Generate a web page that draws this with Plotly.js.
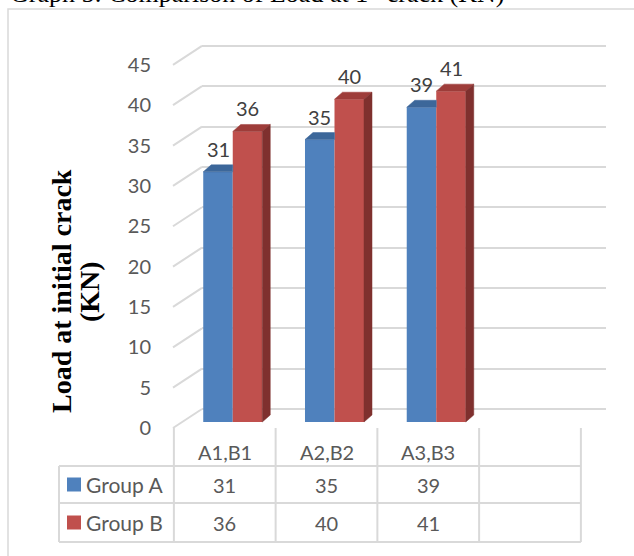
<!DOCTYPE html>
<html>
<head>
<meta charset="utf-8">
<script src="https://cdn.plot.ly/plotly-3.0.1.min.js"></script>
<style>
  html, body { margin: 0; padding: 0; background: #ffffff; }
  #chart { width: 634px; height: 556px; }
</style>
</head>
<body>
<div id="chart"></div>
<script>
// ---- data ----
const categories = ["A1,B1", "A2,B2", "A3,B3", ""];
const seriesNames = ["Group A", "Group B"];
const groupA = [31, 35, 39];
const groupB = [36, 40, 41];
const yTicks = [0, 5, 10, 15, 20, 25, 30, 35, 40, 45];
const chartTitle = "Graph 5: Comparison of Load at 1<sup>st</sup> crack (KN)";
const yTitleLines = ["Load at initial crack", "(KN)"];

// ---- geometry (pixels) ----
const W = 634, H = 556;
const CAT_PX = 101.75;          // width of one category
const UNIT_PX = 8.07;           // height of one value unit
const BAR_X0 = 232.75;          // centre of the first category on the bar plane
const BAR_Y0 = 422;             // value 0 on the bar plane
const FRONT_DX = -8, FRONT_DY = 6;    // floor front edge relative to bar plane
const BACK_Y0 = 409;            // value 0 on the back wall
const WALL_X0 = 202, WALL_X1 = 606, FLOOR_X0 = 173;
const DEPTH_DX = 8, DEPTH_DY = 7;     // bar depth
const BAR_W = 0.29;             // bar width in category units

const colors = {
  aFront: "#4f81bd", aTop: "#3c679a",
  bFront: "#c0504d", bTop: "#9e3d3a", bSide: "#7f302e",
  grid: "#d9d9d9", tick: "#595959", label: "#404040"
};

const px2x = p => (p - BAR_X0) / CAT_PX;
const px2v = p => (BAR_Y0 - p) / UNIT_PX;
const pxX = p => p / W;
const pxY = p => 1 - p / H;

const dx = DEPTH_DX / CAT_PX, dy = DEPTH_DY / UNIT_PX;
const idx = groupA.map((_, i) => i);
const aCenters = idx.map(i => i - BAR_W / 2);
const bCenters = idx.map(i => i + BAR_W / 2);

// top and side faces of the columns
function faces(builder) {
  const xs = [], ys = [];
  idx.forEach(i => {
    builder(i).forEach(pt => { xs.push(pt[0]); ys.push(pt[1]); });
    xs.push(null); ys.push(null);
  });
  return { xs, ys };
}
const aTop = faces(i => {
  const v = groupA[i], l = i - BAR_W;
  const r = groupB[i] > v ? i : i + dx;
  return [[l, v], [l + dx, v + dy], [r, v + dy], [r, v], [l, v]];
});
const bTop = faces(i => {
  const v = groupB[i], l = i, r = i + BAR_W;
  return [[l, v], [l + dx, v + dy], [r + dx, v + dy], [r, v], [l, v]];
});
const bSide = faces(i => {
  const v = groupB[i], r = i + BAR_W;
  return [[r, 0], [r + dx, dy], [r + dx, v + dy], [r, v], [r, 0]];
});

// floor-to-wall diagonals at each gridline
const diagX = [], diagY = [];
yTicks.forEach(t => {
  diagX.push(px2x(FLOOR_X0), px2x(WALL_X0), null);
  diagY.push(t - FRONT_DY / UNIT_PX, t + (BAR_Y0 - BACK_Y0) / UNIT_PX, null);
});

const polyTrace = (f, color) => ({
  type: "scatter", mode: "lines", x: f.xs, y: f.ys, xaxis: "x2", yaxis: "y2",
  fill: "toself", fillcolor: color, line: { color: color, width: 0.5 },
  hoverinfo: "skip", showlegend: false
});

const traces = [
  { // anchors the back-wall subplot
    type: "scatter", mode: "lines", x: [0, 1], y: [null, null],
    xaxis: "x", yaxis: "y", hoverinfo: "skip", showlegend: false
  },
  { // anchors the value-label axis
    type: "scatter", mode: "lines", x: [0, 1], y: [null, null],
    xaxis: "x2", yaxis: "y3", hoverinfo: "skip", showlegend: false
  },
  {
    type: "scatter", mode: "lines", x: diagX, y: diagY, xaxis: "x2", yaxis: "y2",
    line: { color: colors.grid, width: 2 }, hoverinfo: "skip", showlegend: false
  },
  {
    type: "bar", name: seriesNames[0], x: idx, y: groupA, xaxis: "x2", yaxis: "y2",
    marker: { color: colors.aFront, line: { width: 0 } }, showlegend: false, hoverinfo: "skip"
  },
  {
    type: "bar", name: seriesNames[1], x: idx, y: groupB, xaxis: "x2", yaxis: "y2",
    marker: { color: colors.bFront, line: { width: 0 } }, showlegend: false, hoverinfo: "skip"
  },
  polyTrace(aTop, colors.aTop),
  polyTrace(bTop, colors.bTop),
  polyTrace(bSide, colors.bSide)
];

const annotations = [];
const shapes = [];

// value labels above the columns
idx.forEach(i => {
  [[aCenters[i], groupA[i]], [bCenters[i], groupB[i]]].forEach(([x, v]) => {
    annotations.push({
      xref: "x2", yref: "y2", x: x, y: v, text: String(v), showarrow: false,
      yanchor: "middle", yshift: 23,
      font: { family: "Lato, sans-serif", size: 20, color: colors.label }
    });
  });
});

// chart title (partly above the page edge)
annotations.push({
  xref: "paper", yref: "paper", x: pxX(8), y: pxY(10), xanchor: "left", yanchor: "bottom",
  text: chartTitle, showarrow: false,
  font: { family: "Liberation Serif, Times New Roman, serif", size: 26, color: "#000000" }
});

// y-axis title, two rotated lines
[[yTitleLines[0], 61], [yTitleLines[1], 89]].forEach(([t, xc]) => {
  annotations.push({
    xref: "paper", yref: "paper", x: pxX(xc), y: pxY(291), xanchor: "center", yanchor: "middle",
    text: "<b>" + t + "</b>", textangle: -90, showarrow: false,
    font: { family: "Liberation Serif, Times New Roman, serif", size: 28, color: "#000000" }
  });
});

// data table under the plot
const TABLE_LEFT = 59, HEAD_TOP = 428, ROW_LINES = [466, 503, 542];
const colEdge = k => BAR_X0 + CAT_PX * (k - 0.5) + FRONT_DX;
const tableRight = colEdge(categories.length);
const lineStyle = { color: colors.grid, width: 2 };
for (let k = 0; k <= categories.length; k++) {
  shapes.push({ type: "line", xref: "paper", yref: "paper",
    x0: pxX(colEdge(k)), x1: pxX(colEdge(k)), y0: pxY(HEAD_TOP), y1: pxY(ROW_LINES[2]), line: lineStyle });
}
shapes.push({ type: "line", xref: "paper", yref: "paper",
  x0: pxX(TABLE_LEFT), x1: pxX(TABLE_LEFT), y0: pxY(ROW_LINES[0]), y1: pxY(ROW_LINES[2]), line: lineStyle });
ROW_LINES.forEach(r => {
  shapes.push({ type: "line", xref: "paper", yref: "paper",
    x0: pxX(TABLE_LEFT), x1: pxX(tableRight), y0: pxY(r), y1: pxY(r), line: lineStyle });
});

const tableFont = { family: "Lato, sans-serif", size: 20, color: colors.tick };
const rowLabelFont = { family: "Lato, sans-serif", size: 21, color: colors.tick };
categories.forEach((c, k) => {
  if (!c) return;
  const xc = pxX((colEdge(k) + colEdge(k + 1)) / 2);
  annotations.push({ xref: "paper", yref: "paper", x: xc, y: pxY(452), text: c,
    showarrow: false, xanchor: "center", yanchor: "middle", font: tableFont });
});
const rows = [[seriesNames[0], groupA, colors.aFront], [seriesNames[1], groupB, colors.bFront]];
rows.forEach(([name, vals, col], r) => {
  const yc = (ROW_LINES[r] + ROW_LINES[r + 1]) / 2;
  shapes.push({ type: "rect", xref: "paper", yref: "paper", line: { width: 0 }, fillcolor: col,
    x0: pxX(67), x1: pxX(81), y0: pxY(yc - 7), y1: pxY(yc + 7) });
  annotations.push({ xref: "paper", yref: "paper", x: pxX(84), y: pxY(yc), text: name,
    showarrow: false, xanchor: "left", yanchor: "middle", font: rowLabelFont });
  vals.forEach((v, k) => {
    annotations.push({ xref: "paper", yref: "paper", x: pxX((colEdge(k) + colEdge(k + 1)) / 2),
      y: pxY(yc), text: String(v), showarrow: false, xanchor: "center", yanchor: "middle", font: tableFont });
  });
});

// outer chart frame
shapes.push({ type: "rect", xref: "paper", yref: "paper", layer: "below",
  x0: pxX(8), y0: pxY(9), x1: 1.1, y1: -0.1, line: { color: colors.grid, width: 1.5 } });

const layout = {
  width: W, height: H,
  margin: { l: 0, r: 0, t: 0, b: 0, pad: 0 },
  paper_bgcolor: "#ffffff", plot_bgcolor: "rgba(0,0,0,0)",
  showlegend: false,
  barmode: "group", bargap: 1 - 2 * BAR_W, bargroupgap: 0,
  // back wall with its gridlines
  xaxis: { domain: [pxX(WALL_X0), pxX(WALL_X1)], range: [0, 1], visible: false, fixedrange: true },
  yaxis: {
    domain: [0, 1], anchor: "x",
    range: [(BACK_Y0 - H) / UNIT_PX, BACK_Y0 / UNIT_PX],
    tickmode: "array", tickvals: yTicks, showticklabels: false, ticks: "",
    showgrid: true, gridcolor: colors.grid, gridwidth: 2, zeroline: false, showline: false
  },
  // bar plane, spanning the whole figure
  xaxis2: { domain: [0, 1], anchor: "y2", range: [px2x(0), px2x(W)],
    showgrid: false, zeroline: false, showticklabels: false, ticks: "", showline: false },
  yaxis2: { domain: [0, 1], anchor: "x2", range: [px2v(H), px2v(0)],
    showgrid: false, zeroline: false, showticklabels: false, ticks: "", showline: false },
  // value axis labels on the floor front edge
  yaxis3: {
    overlaying: "y2", anchor: "free", side: "left", position: pxX(151),
    range: [(BAR_Y0 + FRONT_DY - H) / UNIT_PX, (BAR_Y0 + FRONT_DY) / UNIT_PX],
    tickmode: "array", tickvals: yTicks, ticktext: yTicks.map(String), ticks: "",
    showgrid: false, zeroline: false, showline: false,
    tickfont: { family: "Lato, sans-serif", size: 20, color: colors.tick }
  },
  annotations: annotations,
  shapes: shapes
};

Plotly.newPlot("chart", traces, layout, { displayModeBar: false, staticPlot: true });
</script>
</body>
</html>
